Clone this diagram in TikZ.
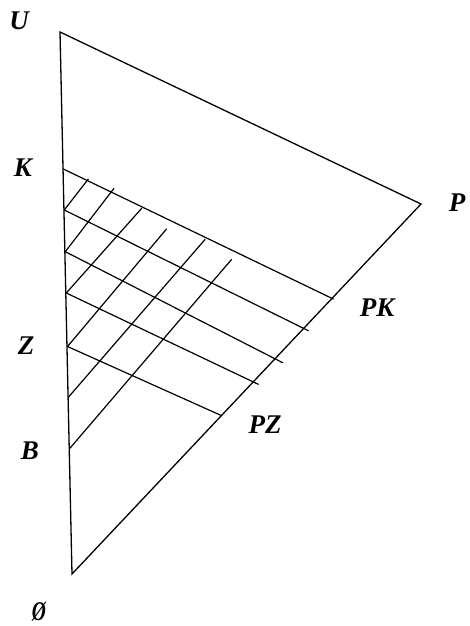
\documentclass[tikz,border=0pt]{standalone}
\usepackage{fontspec}
\setmainfont{Liberation Serif}
\begin{document}
\begin{tikzpicture}[x=1pt,y=-1pt,
  edge/.style={line width=1.3pt,line cap=round,line join=miter},
  hatch/.style={line width=1.2pt,line cap=round},
  lab/.style={inner sep=0pt,font=\fontsize{27}{27}\selectfont\bfseries\itshape}]
\useasboundingbox (0,0) rectangle (470,626);
% main triangle
\coordinate (U) at (60,32);
\coordinate (P) at (421,204);
\coordinate (O) at (72,574);
\draw[edge] (U) -- (P) -- (O) -- cycle;
% points on the left edge
\coordinate (K)  at (63.3,169);
\coordinate (L2) at (64.3,210);
\coordinate (L3) at (65.3,251.7);
\coordinate (L4) at (66.3,293);
\coordinate (Z)  at (67.5,346.5);
\coordinate (L6) at (68.6,397);
\coordinate (B)  at (69.7,448.5);
% ends of the lines parallel to U--P
\coordinate (PK) at (333.3,299);
\coordinate (E2) at (308.3,330.7);
\coordinate (E3) at (282.7,362.7);
\coordinate (E4) at (258.3,384.3);
\coordinate (PZ) at (221.7,415.7);
\draw[hatch] (K) -- (PK);
\draw[hatch] (L2) -- (E2);
\draw[hatch] (L3) -- (E3);
\draw[hatch] (L4) -- (E4);
\draw[hatch] (Z) -- (PZ);
% ends of the lines parallel to O--P
\coordinate (T1) at (88.3,179);
\coordinate (T2) at (114,188.3);
\coordinate (T3) at (141.7,208.3);
\coordinate (T4) at (166.5,229);
\coordinate (T5) at (205,239.5);
\coordinate (T6) at (231.5,259.5);
\draw[hatch] (L2) -- (T1);
\draw[hatch] (L3) -- (T2);
\draw[hatch] (L4) -- (T3);
\draw[hatch] (Z) -- (T4);
\draw[hatch] (L6) -- (T5);
\draw[hatch] (B) -- (T6);
% labels
\node[lab] (lU) at (19,21) {U};
\node[lab] (lK) at (23,168) {K};
\node[lab] (lP) at (457,203) {P};
\node[lab] (lPK) at (377,308) {PK};
\node[lab] (lZ) at (26,346) {Z};
\node[lab] (lB) at (30,451) {B};
\node[lab] (lPZ) at (265,425) {PZ};
\node[lab] (lO) at (39,612) {\scalebox{0.72}[1]{Ø}};
\end{tikzpicture}
\end{document}
